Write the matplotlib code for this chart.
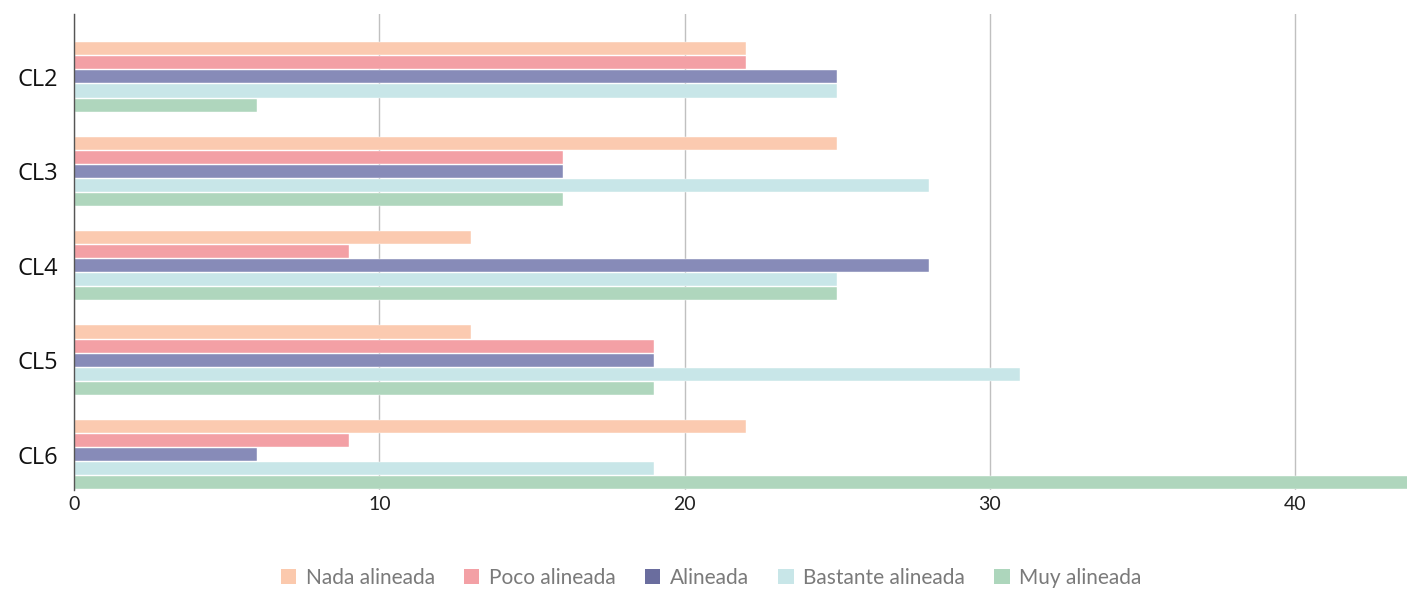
import matplotlib
matplotlib.use("Agg")
import matplotlib.pyplot as plt
from matplotlib.patches import Patch
import numpy as np

categories = ["CL2", "CL3", "CL4", "CL5", "CL6"]
series_names = ["Nada alineada", "Poco alineada", "Alineada", "Bastante alineada", "Muy alineada"]
nada = [22, 25, 13, 13, 22]
poco = [22, 16, 9, 19, 9]
alineada = [25, 16, 28, 19, 6]
bastante = [25, 28, 25, 31, 19]
muy = [6, 16, 25, 19, 44]
x_ticks = [0, 10, 20, 30, 40]

series = [nada, poco, alineada, bastante, muy]
bar_colors = ["#fbcab0", "#f3a0a5", "#878bb8", "#c8e6e8", "#afd6bd"]
legend_colors = ["#fbc9ad", "#f3a0a5", "#6a6d9e", "#c8e6e8", "#add6bc"]

fig = plt.figure(figsize=(14.07, 5.92), dpi=100)
ax = fig.add_axes([74 / 1407, 1 - 490 / 592, 1 - 74 / 1407, (490 - 14) / 592])

y = np.arange(len(categories))
pitch = 0.149
for i, (vals, col) in enumerate(zip(series, bar_colors)):
    offs = (i - 2) * pitch
    ax.barh(y + offs, vals, height=pitch * 0.93, color=col,
            edgecolor="white", linewidth=0.3, zorder=3)

ax.set_xlim(0, 43.66)
ax.set_ylim(4.376, -0.667)
ax.set_yticks(y)
ax.set_yticklabels(categories, fontsize=17, family="Open Sans", color="#111111")
ax.set_xticks(x_ticks)
ax.set_xticklabels([str(t) for t in x_ticks], fontsize=14, family="Lato",
                   color="#222222")
ax.tick_params(axis="both", length=0)
ax.tick_params(axis="y", pad=11.5)
ax.tick_params(axis="x", pad=4)

for s in ["top", "right", "bottom"]:
    ax.spines[s].set_visible(False)
ax.spines["left"].set_color("#555555")
ax.spines["left"].set_linewidth(1.0)
ax.spines["left"].set_zorder(4)

ax.grid(axis="x", color="#c0c0c0", linewidth=1.0, zorder=0)
ax.grid(axis="y", visible=False)

handles = [Patch(facecolor=c, edgecolor="none") for c in legend_colors]
leg = fig.legend(handles, series_names, loc="center", ncol=5,
                 bbox_to_anchor=(711 / 1407, 1 - 578 / 592), frameon=False,
                 prop={"family": "Lato", "size": 15},
                 handlelength=0.75, handleheight=0.75, handletextpad=0.45,
                 columnspacing=1.4)
for t in leg.get_texts():
    t.set_color("#7a7a7a")

fig.savefig("out.png", dpi=100)
